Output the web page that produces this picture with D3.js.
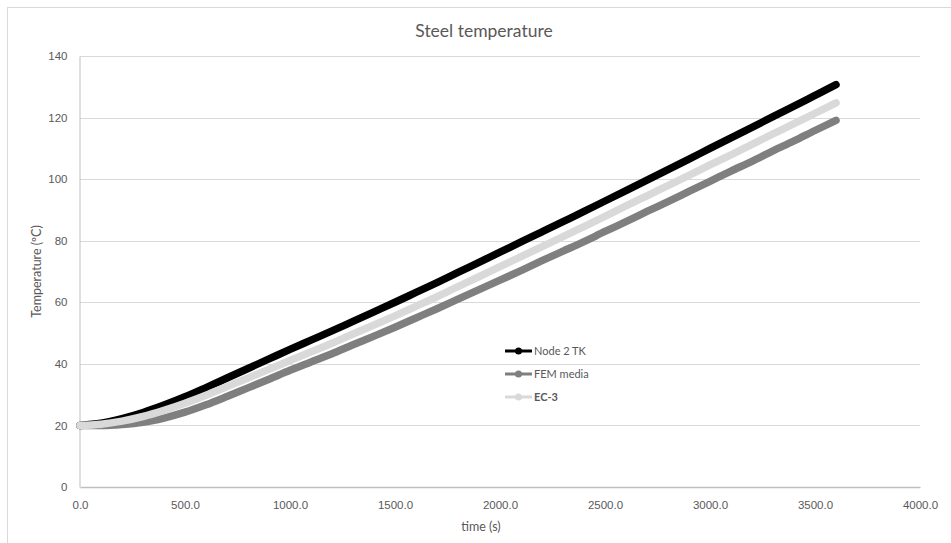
<!DOCTYPE html>
<html>
<head>
<meta charset="utf-8">
<script src="https://cdn.jsdelivr.net/npm/d3@7"></script>
<style>
  html, body { margin: 0; padding: 0; background: #fff; }
  svg { display: block; font-family: Lato, "Open Sans", sans-serif; }
</style>
</head>
<body>
<svg id="chart" width="951" height="543"></svg>
<script>
// Time axis samples (s)
const times = [0, 100, 200, 300, 400, 500, 600, 700, 800, 900, 1000, 1100, 1200,
  1300, 1400, 1500, 1600, 1700, 1800, 1900, 2000, 2100, 2200, 2300, 2400, 2500,
  2600, 2700, 2800, 2900, 3000, 3100, 3200, 3300, 3400, 3500, 3600];

// Steel temperature (°C) for each series
const node2TK = [20.0, 20.7, 22.2, 24.2, 26.6, 29.3, 32.3, 35.4, 38.5, 41.6, 44.7,
  47.7, 50.7, 53.8, 56.9, 60.0, 63.2, 66.4, 69.7, 73.0, 76.3, 79.6, 82.9, 86.2,
  89.5, 92.9, 96.3, 99.7, 103.1, 106.5, 110.0, 113.4, 116.8, 120.3, 123.7, 127.2, 130.7];
const femMedia = [20.0, 20.0, 20.3, 21.0, 22.4, 24.3, 26.7, 29.4, 32.2, 35.0, 37.9,
  40.6, 43.3, 46.2, 49.0, 51.9, 54.9, 57.9, 61.0, 64.1, 67.2, 70.3, 73.5, 76.6,
  79.7, 83.0, 86.2, 89.5, 92.7, 96.0, 99.3, 102.6, 105.8, 109.2, 112.4, 115.8, 119.1];
const ec3 = [20.0, 20.4, 21.4, 22.9, 24.9, 27.2, 29.8, 32.6, 35.4, 38.2, 41.1,
  43.9, 46.7, 49.7, 52.6, 55.6, 58.7, 61.8, 65.1, 68.3, 71.6, 74.8, 78.1, 81.3,
  84.6, 87.9, 91.3, 94.6, 97.9, 101.2, 104.6, 107.9, 111.3, 114.7, 118.0, 121.4, 124.8];

const seriesNames = ["Node 2 TK", "FEM media", "EC-3"];
const seriesColors = ["#000000", "#7f7f7f", "#d9d9d9"];
const seriesValues = [node2TK, femMedia, ec3];

const xTicks = [0, 500, 1000, 1500, 2000, 2500, 3000, 3500, 4000];
const yTicks = [0, 20, 40, 60, 80, 100, 120, 140];

const svg = d3.select("#chart");
const W = 951, H = 543;
const margin = { left: 80, right: 31, top: 56, bottom: 56 };

// Outer chart frame
svg.append("rect")
  .attr("x", 7.5).attr("y", 7.5)
  .attr("width", W).attr("height", H)
  .attr("fill", "none").attr("stroke", "#d9d9d9");

const x = d3.scaleLinear().domain([0, 4000]).range([margin.left, W - margin.right]);
const y = d3.scaleLinear().domain([0, 140]).range([H - margin.bottom, margin.top]);

const textColor = "#595959";

// Horizontal gridlines
svg.append("g")
  .selectAll("line")
  .data(yTicks.filter(d => d > 0))
  .join("line")
  .attr("x1", x(0)).attr("x2", x(4000))
  .attr("y1", d => Math.round(y(d)) + 0.5)
  .attr("y2", d => Math.round(y(d)) + 0.5)
  .attr("stroke", "#d9d9d9").attr("stroke-width", 1);

// Y axis
const yAxis = svg.append("g")
  .attr("transform", `translate(${x(0) - 0.5},0)`)
  .call(d3.axisLeft(y).tickValues(yTicks).tickSize(0).tickPadding(12).tickFormat(d3.format("d")));
yAxis.select(".domain").attr("stroke", "#bfbfbf");
yAxis.selectAll("text").attr("fill", textColor).style("font-size", "11.5px");

// X axis
const xAxis = svg.append("g")
  .attr("transform", `translate(0,${Math.round(y(0))})`)
  .call(d3.axisBottom(x).tickValues(xTicks).tickSize(0).tickPadding(14).tickFormat(d3.format(".1f")));
xAxis.select(".domain").attr("stroke", "#bfbfbf").attr("stroke-width", 1.5);
xAxis.selectAll("text").attr("fill", textColor).style("font-size", "11.5px");

// Data lines
const line = d3.line()
  .x((d, i) => x(times[i]))
  .y(d => y(d))
  .curve(d3.curveMonotoneX);

seriesValues.forEach((vals, k) => {
  svg.append("path")
    .datum(vals)
    .attr("d", line)
    .attr("fill", "none")
    .attr("stroke", seriesColors[k])
    .attr("stroke-width", 7.5)
    .attr("stroke-linecap", "round")
    .attr("stroke-linejoin", "round");
});

// Title
svg.append("text")
  .attr("x", 484).attr("y", 37)
  .attr("text-anchor", "middle")
  .attr("fill", textColor)
  .style("font-size", "17.5px")
  .text("Steel temperature");

// Axis titles
svg.append("text")
  .attr("x", 481).attr("y", 531)
  .attr("text-anchor", "middle")
  .attr("fill", textColor)
  .style("font-size", "12.5px")
  .text("time (s)");

svg.append("text")
  .attr("transform", `translate(41,${(y(0) + y(140)) / 2}) rotate(-90)`)
  .attr("text-anchor", "middle")
  .attr("fill", textColor)
  .style("font-size", "12.5px")
  .text("Temperature (ºC)");

// Legend
const legend = svg.append("g").attr("transform", "translate(505,351)");
seriesNames.forEach((name, k) => {
  const g = legend.append("g").attr("transform", `translate(0,${k * 23})`);
  g.append("line")
    .attr("x1", 0).attr("x2", 27).attr("y1", 0).attr("y2", 0)
    .attr("stroke", seriesColors[k]).attr("stroke-width", 3);
  g.append("circle")
    .attr("cx", 13.5).attr("cy", 0).attr("r", 3.5)
    .attr("fill", seriesColors[k]);
  g.append("text")
    .attr("x", 29).attr("y", 4)
    .attr("fill", textColor)
    .style("font-size", "11px")
    .style("font-weight", k === 2 ? "bold" : "normal")
    .text(name);
});
</script>
</body>
</html>
